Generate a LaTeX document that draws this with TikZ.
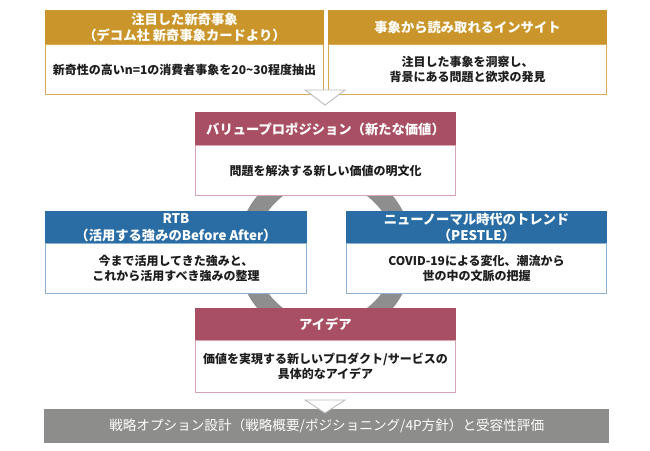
\documentclass[tikz,border=0pt]{standalone}
\usepackage{fontspec}
\newfontfamily\jp{Noto Sans CJK JP}
\definecolor{gold}{HTML}{CA962B}
\definecolor{goldline}{HTML}{D9A953}
\definecolor{maroon}{HTML}{A94F63}
\definecolor{pinkline}{HTML}{D8A5B2}
\definecolor{blueh}{HTML}{2A6DA5}
\definecolor{blueline}{HTML}{8CB1D3}
\definecolor{bargray}{HTML}{8D8E8C}
\definecolor{ringgray}{HTML}{8E8E8E}
\definecolor{trigray}{HTML}{BDBDBD}
\definecolor{txt}{HTML}{1E1E1E}
\begin{document}
\begin{tikzpicture}[x=1pt,y=-1pt,
  hdr/.style={inner sep=0pt, anchor=north west, text=white, align=center, line width=1pt,
    font=\jp\bfseries\fontsize{13.3}{16.5}\selectfont},
  bodyb/.style={inner sep=0pt, anchor=north west, fill=white, text=txt, align=center, line width=1pt,
    font=\jp\bfseries\fontsize{12}{15}\selectfont},
  tri/.style={fill=white, draw=trigray, line width=0.9pt, line join=miter},
  ring/.style={draw=ringgray, line width=18pt},
  barbox/.style={inner sep=0pt, anchor=north west, fill=bargray, text=white, align=center,
    font=\jp\fontsize{13.6}{16}\selectfont}
]
\useasboundingbox (0,0) rectangle (650,450);
\fill[white] (0,0) rectangle (650,450);
\draw[ring] (325,252) circle[radius=79pt];

% top left
\node[hdr, fill=gold, draw=gold, minimum width=278pt, minimum height=34pt] (h1) at (45,10)
  {注目した新奇事象\\（デコム社 新奇事象カードより）};
\node[bodyb, draw=goldline, minimum width=278pt, minimum height=50pt] (b1) at (45,44)
  {新奇性の高いn=1の消費者事象を20\string~30程度抽出};
% top right
\node[hdr, fill=gold, draw=gold, minimum width=278pt, minimum height=34pt] (h2) at (328,10)
  {事象から読み取れるインサイト};
\node[bodyb, draw=goldline, minimum width=278pt, minimum height=50pt] (b2) at (328,44)
  {注目した事象を洞察し、\\背景にある問題と欲求の発見};
% value proposition
\node[hdr, fill=maroon, draw=maroon, minimum width=260pt, minimum height=33pt] (h3) at (195,112)
  {バリュープロポジション（新たな価値）};
\node[bodyb, draw=pinkline, minimum width=260pt, minimum height=50pt] (b3) at (195,145)
  {問題を解決する新しい価値の明文化};
% RTB
\node[hdr, fill=blueh, draw=blueh, minimum width=261pt, minimum height=32pt] (h4) at (45,211)
  {RTB\\（活用する強みのBefore After）};
\node[bodyb, draw=blueline, minimum width=261pt, minimum height=50pt] (b4) at (45,243)
  {今まで活用してきた強みと、\\これから活用すべき強みの整理};
% New normal
\node[hdr, fill=blueh, draw=blueh, minimum width=260pt, minimum height=32pt] (h5) at (346,211)
  {ニューノーマル時代のトレンド\\（PESTLE）};
\node[bodyb, draw=blueline, minimum width=260pt, minimum height=50pt] (b5) at (346,243)
  {COVID-19による変化、潮流から\\世の中の文脈の把握};
% idea
\node[hdr, fill=maroon, draw=maroon, minimum width=260pt, minimum height=32pt] (h6) at (195,308)
  {アイデア};
\node[bodyb, draw=pinkline, minimum width=260pt, minimum height=52pt] (b6) at (195,340)
  {価値を実現する新しいプロダクト/サービスの\\具体的なアイデア};
% bottom bar
\node[barbox, minimum width=565pt, minimum height=34pt] (bar) at (44,409)
  {戦略オプション設計（戦略概要/ポジショニング/4P方針）と受容性評価};

% triangles
\coordinate (t1l) at (305,90);
\coordinate (t1r) at (345,90);
\coordinate (t1b) at (325,105);
\draw[tri] (t1l) -- (t1r) -- (t1b) -- cycle;
\coordinate (t2l) at (305,400);
\coordinate (t2r) at (345,400);
\coordinate (t2b) at (325,413);
\draw[tri] (t2l) -- (t2r) -- (t2b) -- cycle;
\end{tikzpicture}
\end{document}
